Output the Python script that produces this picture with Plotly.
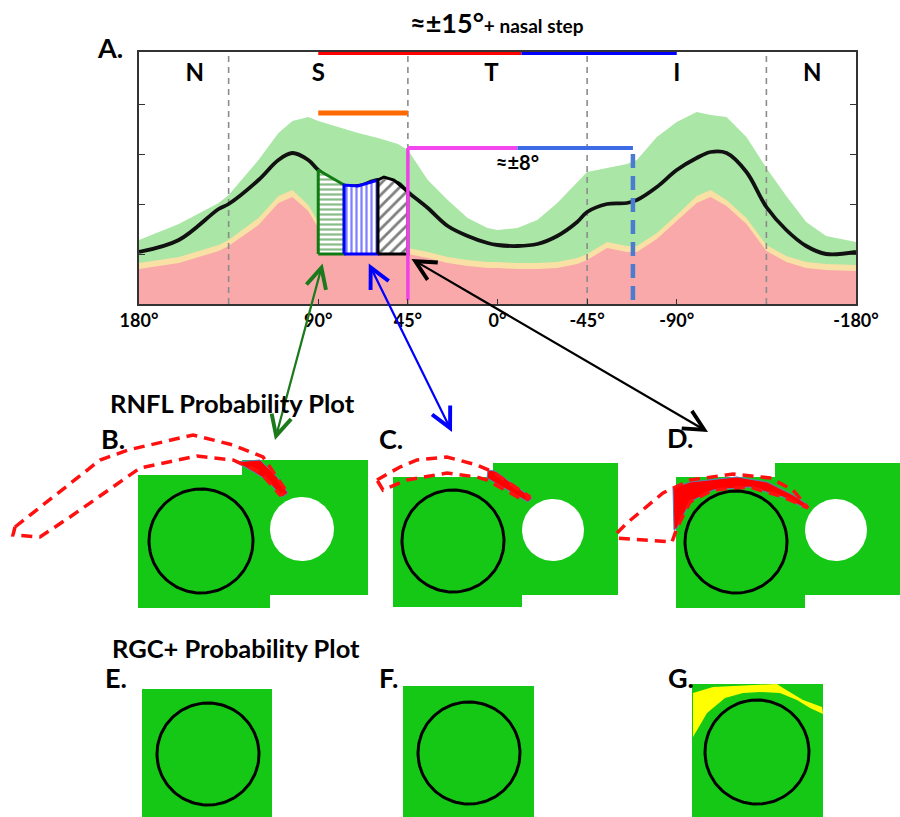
import numpy as np
import plotly.graph_objects as go

# ---------------- Panel A data (RNFL thickness profile, TSNIT) ----------------
angles = [180, 160, 140, 135, 120, 110, 103, 95, 90, 80, 70, 60, 50, 45, 35, 25, 15, 5, 0, -10,
          -20, -30, -40, -45, -55, -65, -70, -80, -90, -100, -107, -115, -125, -135, -145, -155, -165, -180]
mean_rnfl = [52, 64, 95, 100, 124, 144, 151, 144, 134, 120, 118, 124, 121, 112, 96, 78, 68, 61, 59, 58,
             60, 68, 82, 92, 100, 101, 104, 117, 134, 146, 152, 151, 132, 97, 74, 58, 50, 52]
normal_upper = [64, 80, 101, 109, 144, 171, 183, 187, 183, 177, 171, 166, 160, 154, 124, 104, 86, 76, 74, 76,
                84, 101, 122, 132, 136, 140, 144, 167, 182, 192, 189, 187, 167, 136, 108, 82, 68, 62]
borderline_upper = [41, 47, 59, 64, 86, 108, 114, 99, 82, 66, 59, 57, 57, 56, 52, 47, 44, 42, 42, 41,
                    41, 42, 46, 50, 62, 58, 58, 71, 89, 108, 114, 104, 86, 59, 48, 42, 40, 39]
severe_upper = [35, 41, 53, 58, 79, 101, 107, 93, 76, 60, 53, 51, 51, 50, 46, 41, 38, 36, 36, 35,
                35, 36, 40, 44, 56, 52, 52, 65, 83, 101, 107, 98, 80, 53, 42, 36, 34, 33]

sector_bounds = [135, 45, -45, -135]
sector_label_angles = [152, 90, 3, -90, -158]
sector_labels = ["N", "S", "T", "I", "N"]
tick_vals = [180, 90, 45, 0, -45, -90, -180]
tick_text = ["180°", "90°", "45°", "0°", "-45°", "-90°", "-180°"]

hatch_base = 50
green_hatch_angles = [90, 77]
green_hatch_tops = [134, 119]
blue_hatch_angles = [77, 70, 60]
blue_hatch_tops = [119, 118, 124]
black_hatch_angles = [60, 57, 52, 45]
black_hatch_tops = [124, 127, 124, 112]

sup15_red = [90, -12]
sup15_blue = [-12, -90]
sup15_level = 252
orange_bar = [90, 45]
orange_level = 191
pm8_magenta = [45, -10]
pm8_blue = [-10, -68]
pm8_level = 156
pm8_bottom = 4

# ---------------- Probability plot panels (pixel geometry) ----------------
green_panels = {
    "B": [(138, 475), (242, 475), (242, 460), (368, 460), (368, 595), (270, 595), (270, 608), (138, 608)],
    "C": [(393, 477), (493, 477), (493, 463), (618, 463), (618, 595), (522, 595), (522, 607), (393, 607)],
    "D": [(676, 477), (775, 477), (775, 463), (900, 463), (900, 595), (805, 595), (805, 608), (676, 608)],
    "E": [(142, 689), (272, 689), (272, 817), (142, 817)],
    "F": [(403, 686), (534, 686), (534, 817), (403, 817)],
    "G": [(692, 684), (823, 684), (823, 817), (692, 817)],
}
holes = [(302, 529, 32), (553, 530, 31), (836, 530, 31)]
disc_circles = [(201, 541, 52), (453, 541, 51), (736, 542, 51),
                (208, 754, 51), (469, 753, 51), (757, 752, 52)]
yellow_G = [(693, 693), (713, 687), (777, 684), (783, 688), (803, 700), (822, 707), (823, 714),
            (810, 708), (797, 700), (780, 693), (760, 692), (743, 693), (725, 698), (707, 713), (693, 737)]
red_fills = [
    [(235, 462), (260, 460), (277, 477), (288, 493), (282, 497), (267, 480), (247, 468)],
    [(488, 470), (495, 471), (532, 498), (528, 502), (487, 478)],
    [(673, 488), (690, 482), (737, 477), (767, 482), (793, 495), (808, 505), (805, 508), (783, 497),
     (750, 487), (713, 490), (690, 502), (677, 528), (674, 530)],
]
red_outlines = [
    [(15, 527), (100, 460), (128, 450), (193, 435), (233, 445), (263, 457), (287, 492),
     (280, 495), (260, 472), (233, 460), (197, 456), (140, 468), (70, 517), (40, 537), (13, 535), (15, 527)],
    [(377, 480), (400, 467), (417, 460), (447, 457), (477, 465), (493, 472), (530, 497),
     (523, 500), (487, 480), (477, 477), (447, 473), (407, 480), (383, 490), (377, 480)],
    [(617, 533), (627, 523), (663, 493), (690, 480), (733, 474), (770, 478), (793, 490), (808, 508),
     (783, 497), (750, 487), (713, 490), (690, 502), (677, 528), (672, 542), (617, 538), (617, 533)],
]
arrows = [  # (tail_x, tail_y, head_x, head_y, colour)
    (323, 262, 275, 440, "#1c7a1c"),
    (368, 262, 452, 432, "#0000ff"),
    (410, 258, 708, 432, "#000000"),
]
panel_letters = [("A.", 110, 47), ("B.", 113, 438), ("C.", 391, 438), ("D.", 680, 437),
                 ("E.", 116, 677), ("F.", 388, 677), ("G.", 681, 677)]
section_titles = [("RNFL Probability Plot", 232, 403), ("RGC+ Probability Plot", 236, 648)]

FONT = "Lato"
fig = go.Figure()

# ---- Panel A: normative bands ----
fig.add_trace(go.Scatter(x=angles, y=normal_upper, fill="tozeroy", mode="lines",
                         line=dict(width=0), fillcolor="#aae6a5", hoverinfo="skip"))
fig.add_trace(go.Scatter(x=angles, y=borderline_upper, fill="tozeroy", mode="lines",
                         line=dict(width=0), fillcolor="#f9e0a4", hoverinfo="skip"))
fig.add_trace(go.Scatter(x=angles, y=severe_upper, fill="tozeroy", mode="lines",
                         line=dict(width=0), fillcolor="#f9a9a9", hoverinfo="skip"))
for a in sector_bounds:
    fig.add_trace(go.Scatter(x=[a, a], y=[0, 252], mode="lines",
                             line=dict(color="#8c8c8c", width=1.6, dash="6px,5px")))
fig.add_trace(go.Scatter(x=angles, y=mean_rnfl, mode="lines", line=dict(color="#111111", width=3.8),
                         line_shape="spline"))

# hatched patient sectors
def hatch(ang, tops, color, shape, size, solidity):
    xs = [ang[0]] + list(ang) + [ang[-1], ang[0]]
    ys = [hatch_base] + list(tops) + [hatch_base, hatch_base]
    fig.add_trace(go.Scatter(x=xs, y=ys, mode="lines", fill="toself",
                             fillpattern=dict(shape=shape, fgcolor=color, bgcolor="white",
                                              size=size, solidity=solidity),
                             line=dict(color=color, width=3)))

hatch(green_hatch_angles, green_hatch_tops, "#127a12", "-", 5, 0.45)
hatch(blue_hatch_angles, blue_hatch_tops, "#0000ff", "|", 5, 0.45)
hatch(black_hatch_angles, black_hatch_tops, "#000000", "/", 8, 0.35)

# bars
fig.add_trace(go.Scatter(x=orange_bar, y=[orange_level] * 2, mode="lines",
                         line=dict(color="#ff6a00", width=5), cliponaxis=False))
fig.add_trace(go.Scatter(x=[pm8_magenta[0], pm8_magenta[0]], y=[pm8_bottom, pm8_level], mode="lines",
                         line=dict(color="#f040e8", width=3.5), cliponaxis=False))
fig.add_trace(go.Scatter(x=pm8_magenta, y=[pm8_level] * 2, mode="lines",
                         line=dict(color="#f545ef", width=4), cliponaxis=False))
fig.add_trace(go.Scatter(x=pm8_blue, y=[pm8_level] * 2, mode="lines",
                         line=dict(color="#3d6be6", width=4), cliponaxis=False))
fig.add_trace(go.Scatter(x=[pm8_blue[1], pm8_blue[1]], y=[pm8_bottom, pm8_level], mode="lines",
                         line=dict(color="#4a7cd0", width=4.5, dash="14px,8px"), cliponaxis=False))
fig.add_trace(go.Scatter(x=sup15_red, y=[sup15_level] * 2, mode="lines",
                         line=dict(color="#ff0000", width=6), cliponaxis=False))
fig.add_trace(go.Scatter(x=sup15_blue, y=[sup15_level] * 2, mode="lines",
                         line=dict(color="#0000ff", width=6), cliponaxis=False))
fig.add_trace(go.Scatter(x=sector_label_angles, y=[229] * 5, mode="text", text=sector_labels,
                         textfont=dict(family=FONT, size=24, color="black", weight="bold"),
                         cliponaxis=False))
fig.add_trace(go.Scatter(x=[-10], y=[139], mode="text", text=["≈±8°"],
                         textfont=dict(family=FONT, size=20, color="black", weight="bold")))

# ---- Probability plot panels (overlay axes in pixel units) ----
def poly(pts, **kw):
    xs = [p[0] for p in pts] + [pts[0][0]]
    ys = [p[1] for p in pts] + [pts[0][1]]
    fig.add_trace(go.Scatter(x=xs, y=ys, xaxis="x2", yaxis="y2", hoverinfo="skip", **kw))

def circle_pts(cx, cy, r):
    t = np.linspace(0, 2 * np.pi, 121)
    return list(zip(cx + r * np.cos(t), cy + r * np.sin(t)))

for name, pts in green_panels.items():
    poly(pts, mode="lines", fill="toself", fillcolor="#16c816", line=dict(width=0))
for cx, cy, r in holes:
    poly(circle_pts(cx, cy, r), mode="lines", fill="toself", fillcolor="white", line=dict(width=0))
poly(yellow_G, mode="lines", fill="toself", fillcolor="#ffff00", line=dict(width=0))
for pts in red_fills:
    poly(pts, mode="lines", fill="toself", fillcolor="#ff0000", line=dict(color="#5b7fc0", width=1))
for pts in red_outlines:
    fig.add_trace(go.Scatter(x=[p[0] for p in pts], y=[p[1] for p in pts], xaxis="x2", yaxis="y2",
                             mode="lines", line=dict(color="#ff1010", width=3.5, dash="11px,7px")))
for cx, cy, r in disc_circles:
    poly(circle_pts(cx, cy, r), mode="lines", line=dict(color="black", width=3))

annotations = []
for tx, ty, hx, hy, col in arrows:
    annotations.append(dict(x=hx, y=hy, ax=tx, ay=ty, xref="x2", yref="y2", axref="x2", ayref="y2",
                            showarrow=True, arrowhead=5, startarrowhead=5, arrowside="end+start",
                            arrowsize=1.8, startarrowsize=1.8, arrowwidth=2.2, arrowcolor=col, text=""))
for txt, x, y in panel_letters:
    annotations.append(dict(x=x, y=y, xref="x2", yref="y2", text=txt, showarrow=False,
                            font=dict(family=FONT, size=27, color="black", weight="bold")))
for txt, x, y in section_titles:
    annotations.append(dict(x=x, y=y, xref="x2", yref="y2", text=txt, showarrow=False,
                            font=dict(family=FONT, size=25.5, color="black", weight="bold")))
annotations.append(dict(x=497, y=22, xref="x2", yref="y2", showarrow=False,
                        text="≈±15°<span style='font-size:19px'>+ nasal step</span>",
                        font=dict(family=FONT, size=27, color="black", weight="bold")))

fig.update_layout(
    width=900, height=817, margin=dict(l=0, r=0, t=0, b=0, autoexpand=False),
    paper_bgcolor="white", plot_bgcolor="rgba(0,0,0,0)", showlegend=False,
    annotations=annotations,
    xaxis=dict(domain=[139 / 900, 856 / 900], range=[180, -180], tickvals=tick_vals, ticktext=tick_text,
               ticks="inside", ticklen=5, tickcolor="#333", showline=True, linecolor="#333", linewidth=1.5,
               mirror=True, showgrid=False, zeroline=False, automargin=False,
               tickfont=dict(family=FONT, size=18, color="black", weight="bold")),
    yaxis=dict(domain=[1 - 304 / 817, 1 - 52 / 817], range=[0, 252], tickvals=[50, 100, 150, 200],
               showticklabels=False, ticks="inside", ticklen=6, tickcolor="#333", showline=True,
               linecolor="#333", linewidth=1.5, mirror="ticks", showgrid=False, zeroline=False,
               automargin=False),
    xaxis2=dict(domain=[0, 1], anchor="y2", range=[0, 900], visible=False, fixedrange=True, automargin=False),
    yaxis2=dict(domain=[0, 1], anchor="x2", range=[817, 0], visible=False, fixedrange=True, automargin=False),
)

fig.write_html("out.html", config={"displayModeBar": False},
               post_script="document.body.style.margin='0px';document.body.style.overflow='hidden';")
